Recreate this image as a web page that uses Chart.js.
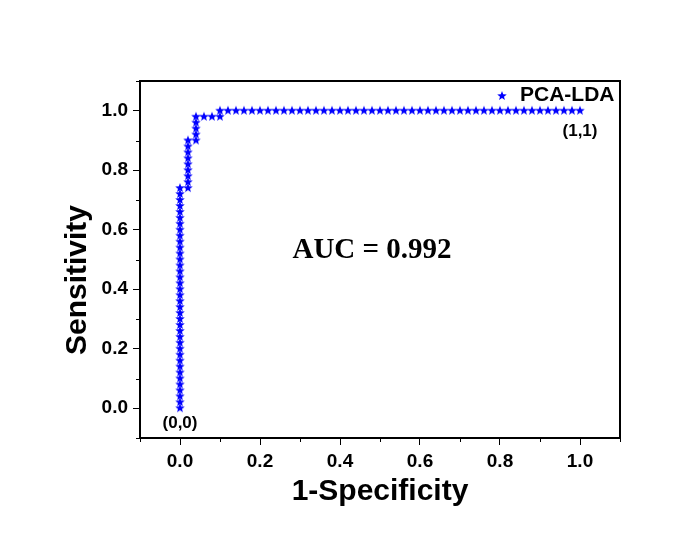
<!DOCTYPE html>
<html>
<head>
<meta charset="utf-8">
<title>ROC PCA-LDA</title>
<script src="https://cdn.jsdelivr.net/npm/chart.js@4.4.0/dist/chart.umd.min.js"></script>
<style>
body { margin: 0; background: #fff; }
#myChart { display: block; }
</style>
</head>
<body>
<canvas id="myChart" width="686" height="546"></canvas>
<script>
// ROC points (1-specificity, sensitivity)
var fpr = [
    0,0,0,0,0,0,0,0,0,0,
    0,0,0,0,0,0,0,0,0,0,
    0,0,0,0,0,0,0,0,0,0,
    0,0,0,0,0,0,0,0,
    0.02,0.02,0.02,0.02,0.02,0.02,0.02,0.02,0.02,
    0.04,0.04,0.04,0.04,0.04,
    0.06,0.08,0.10,
    0.10,
    0.12,0.14,0.16,0.18,0.20,0.22,0.24,0.26,0.28,0.30,
    0.32,0.34,0.36,0.38,0.40,0.42,0.44,0.46,0.48,0.50,
    0.52,0.54,0.56,0.58,0.60,0.62,0.64,0.66,0.68,0.70,
    0.72,0.74,0.76,0.78,0.80,0.82,0.84,0.86,0.88,0.90,
    0.92,0.94,0.96,0.98,1.00
];
var tpr = [
    0,0.02,0.04,0.06,0.08,0.10,0.12,0.14,0.16,0.18,
    0.20,0.22,0.24,0.26,0.28,0.30,0.32,0.34,0.36,0.38,
    0.40,0.42,0.44,0.46,0.48,0.50,0.52,0.54,0.56,0.58,
    0.60,0.62,0.64,0.66,0.68,0.70,0.72,0.74,
    0.74,0.76,0.78,0.80,0.82,0.84,0.86,0.88,0.90,
    0.90,0.92,0.94,0.96,0.98,
    0.98,0.98,0.98,
    1.00,
    1,1,1,1,1,1,1,1,1,1,
    1,1,1,1,1,1,1,1,1,1,
    1,1,1,1,1,1,1,1,1,1,
    1,1,1,1,1,1,1,1,1,1,
    1,1,1,1,1
];
var serie = 'PCA-LDA';
var xTicks = [0, 0.2, 0.4, 0.6, 0.8, 1.0];
var yTicks = [0, 0.2, 0.4, 0.6, 0.8, 1.0];
var minorTicks = [-0.1, 0.1, 0.3, 0.5, 0.7, 0.9, 1.1];
var notes = [
    { text: '(0,0)', x: 0, y: -0.05, font: 'bold 17px "Liberation Sans"' },
    { text: '(1,1)', x: 1.0, y: 0.93, font: 'bold 17px "Liberation Sans"' },
    { text: 'AUC = 0.992', x: 0.48, y: 0.53, font: 'bold 29px "Liberation Serif"' }
];

var azul = '#0000ff';

function estrella(r)
{
    var c = document.createElement('canvas');
    var s = Math.ceil(r * 2) + 2;
    c.width = s;
    c.height = s;
    var g = c.getContext('2d');
    var cx = s / 2, cy = s / 2, ri = r * 0.42;
    g.beginPath();
    for (var i = 0; i < 10; i++) {
        var ang = -Math.PI / 2 + i * Math.PI / 5;
        var rr = (i % 2 == 0) ? r : ri;
        var px = cx + rr * Math.cos(ang), py = cy + rr * Math.sin(ang);
        if (i == 0) g.moveTo(px, py); else g.lineTo(px, py);
    }
    g.closePath();
    g.fillStyle = azul;
    g.fill();
    return c;
}
var star = estrella(5);

var puntos = [];
for (var i in fpr) {
    puntos.push({ x: fpr[i], y: tpr[i] });
}

// frame, minor ticks, y title, legend and labels
var extras = {
    id: 'extras',
    afterDraw: function(chart) {
        var ctx = chart.ctx;
        var a = chart.chartArea;
        var sx = chart.scales.x, sy = chart.scales.y;
        ctx.save();
        ctx.strokeStyle = '#000';
        ctx.lineWidth = 2;
        ctx.beginPath();
        ctx.moveTo(a.left, a.top);
        ctx.lineTo(a.right, a.top);
        ctx.lineTo(a.right, a.bottom);
        ctx.stroke();

        ctx.lineWidth = 1;
        ctx.beginPath();
        minorTicks.forEach(function(v) {
            var px = Math.round(sx.getPixelForValue(v)) + 0.5;
            ctx.moveTo(px, a.bottom);
            ctx.lineTo(px, a.bottom + 4);
            var py = Math.round(sy.getPixelForValue(v)) + 0.5;
            ctx.moveTo(a.left, py);
            ctx.lineTo(a.left - 4, py);
        });
        ctx.stroke();

        ctx.fillStyle = '#000';
        ctx.textBaseline = 'middle';
        ctx.textAlign = 'center';

        // y title
        ctx.save();
        ctx.translate(78, 280);
        ctx.rotate(-Math.PI / 2);
        ctx.font = 'bold 30px "Liberation Sans"';
        ctx.fillText('Sensitivity', 0, 0);
        ctx.restore();

        // legend
        ctx.drawImage(star, 502 - star.width / 2, 96 - star.height / 2);
        ctx.font = 'bold 21px "Liberation Sans"';
        ctx.textAlign = 'left';
        ctx.fillText(chart.data.datasets[0].label, 520, 95);

        ctx.textAlign = 'center';
        notes.forEach(function(n) {
            ctx.font = n.font;
            ctx.fillText(n.text, sx.getPixelForValue(n.x), sy.getPixelForValue(n.y));
        });
        ctx.restore();
    }
};

var fuente = { family: '"Liberation Sans"', weight: 'bold', size: 19 };
var fuenteTit = { family: '"Liberation Sans"', weight: 'bold', size: 30 };

var ctx = document.getElementById('myChart');
var rocGraph = new Chart(ctx, {
    type: 'scatter',
    data: {
        datasets: [
            {
                label: serie,
                data: puntos,
                pointStyle: star,
                backgroundColor: azul,
                borderColor: azul,
                showLine: false
            }
        ]
    },
    options: {
        responsive: false,
        animation: false,
        layout: { padding: { top: 81, right: 66, left: 0, bottom: 0 } },
        plugins: {
            legend: { display: false },
            tooltip: { enabled: false }
        },
        scales: {
            x: {
                type: 'linear',
                min: -0.1,
                max: 1.1,
                afterBuildTicks: function(scale) {
                    scale.ticks = xTicks.map(function(v) { return { value: v }; });
                },
                afterFit: function(scale) { scale.height = 108; },
                ticks: {
                    color: '#000',
                    font: fuente,
                    padding: 5,
                    maxRotation: 0,
                    callback: function(v) { return Number(v).toFixed(1); }
                },
                grid: { drawOnChartArea: false, drawTicks: true, tickLength: 7, tickColor: '#000', tickWidth: 1 },
                border: { display: true, color: '#000', width: 2 },
                title: { display: true, text: '1-Specificity', color: '#000', font: fuenteTit, padding: { top: 0, bottom: 36 } }
            },
            y: {
                type: 'linear',
                min: -0.1,
                max: 1.1,
                afterBuildTicks: function(scale) {
                    scale.ticks = yTicks.map(function(v) { return { value: v }; });
                },
                afterFit: function(scale) { scale.width = 140; },
                ticks: {
                    color: '#000',
                    font: fuente,
                    padding: 5,
                    callback: function(v) { return Number(v).toFixed(1); }
                },
                grid: { drawOnChartArea: false, drawTicks: true, tickLength: 7, tickColor: '#000', tickWidth: 1 },
                border: { display: true, color: '#000', width: 2 }
            }
        }
    },
    plugins: [extras]
});
</script>
</body>
</html>
